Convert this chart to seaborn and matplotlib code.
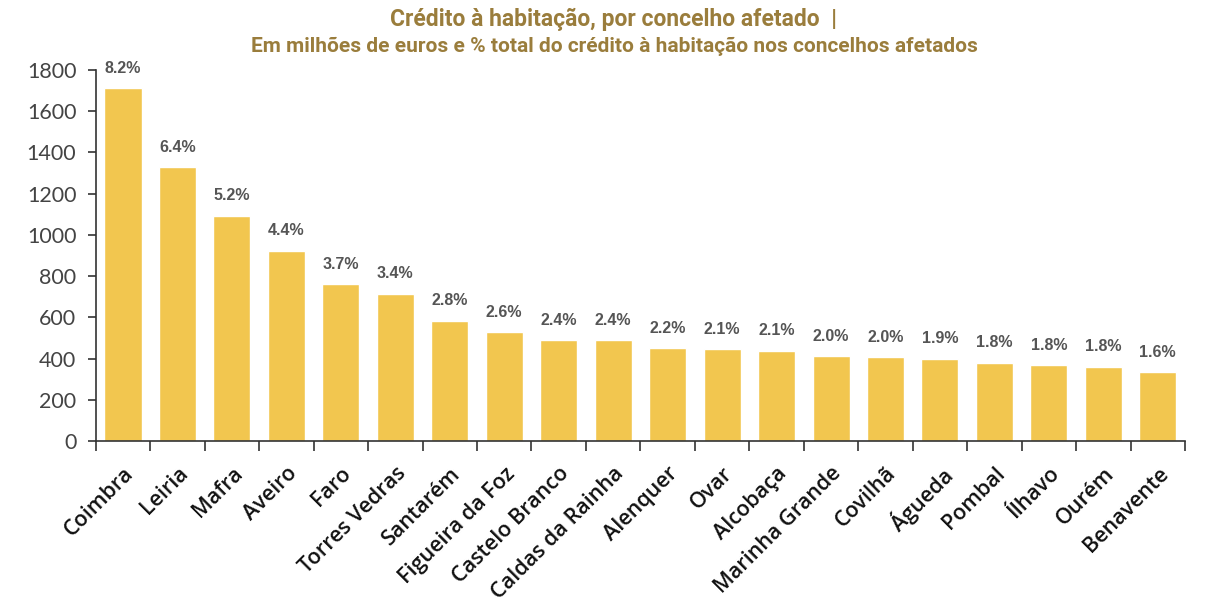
import matplotlib.pyplot as plt
import seaborn as sns
import pandas as pd

concelhos = ["Coimbra", "Leiria", "Mafra", "Aveiro", "Faro", "Torres Vedras",
             "Santarém", "Figueira da Foz", "Castelo Branco", "Caldas da Rainha",
             "Alenquer", "Ovar", "Alcobaça", "Marinha Grande", "Covilhã",
             "Águeda", "Pombal", "Ílhavo", "Ourém", "Benavente"]
credito = [1711, 1327, 1093, 923, 759, 714, 584, 528, 489, 489,
           450, 444, 438, 412, 405, 399, 380, 367, 360, 334]
pct_total = ["8.2%", "6.4%", "5.2%", "4.4%", "3.7%", "3.4%", "2.8%", "2.6%", "2.4%", "2.4%",
             "2.2%", "2.1%", "2.1%", "2.0%", "2.0%", "1.9%", "1.8%", "1.8%", "1.8%", "1.6%"]

df = pd.DataFrame({"concelho": concelhos, "credito": credito})

sns.set_style("white")
plt.rcParams['font.family'] = ['Open Sans', 'DejaVu Sans']

fig = plt.figure(figsize=(12.28, 6.07), dpi=100)
ax = fig.add_axes([0.078, 0.2735, 0.887, 0.6115])

sns.barplot(data=df, x="concelho", y="credito", color="#F2C64F", saturation=1,
            width=0.68, ax=ax)

# percentage labels above the bars
for i, (v, p) in enumerate(zip(credito, pct_total)):
    ax.annotate(p, (i, v), xytext=(0, 9), textcoords="offset points",
                ha="center", va="bottom", fontsize=11.5, fontweight="bold",
                color="#555555", family=["Liberation Sans", "DejaVu Sans"])

ax.set_xlim(-0.5, len(concelhos) - 0.5)
ax.set_ylim(0, 1800)
ax.set_yticks(range(0, 1801, 200))
ax.set_xlabel("")
ax.set_ylabel("")

for s in ["top", "right"]:
    ax.spines[s].set_visible(False)
for s in ["left", "bottom"]:
    ax.spines[s].set_color("#333333")
    ax.spines[s].set_linewidth(1.2)

# ticks at category boundaries, like Excel
ax.set_xticks(range(len(concelhos)))
ax.set_xticks([i - 0.5 for i in range(len(concelhos) + 1)], minor=True)
ax.tick_params(axis="x", which="minor", bottom=True, length=7, width=1.2,
               color="#333333", direction="out")
ax.tick_params(axis="x", which="major", bottom=True, length=0, pad=16)
ax.tick_params(axis="y", left=True, length=6, width=1.2, color="#333333",
               direction="out", pad=8)

ax.set_xticklabels(concelhos, rotation=45, ha="right", rotation_mode="anchor",
                   fontsize=15.5, fontweight="semibold", color="#111111")
for lab in ax.get_yticklabels():
    lab.set_family(["Lato", "DejaVu Sans"])
    lab.set_fontsize(15.5)
    lab.set_color("#444444")

fig.text(0.5, 0.968, "Crédito à habitação, por concelho afetado  |", ha="center", va="center",
         fontsize=16.5, fontweight="bold", color="#9A7D3C", family=["Roboto", "DejaVu Sans"])
fig.text(0.5, 0.924, "Em milhões de euros e % total do crédito à habitação nos concelhos afetados",
         ha="center", va="center", fontsize=15, fontweight="bold", color="#9A7D3C",
         family=["Roboto", "DejaVu Sans"])

fig.savefig("out.png", dpi=100)
